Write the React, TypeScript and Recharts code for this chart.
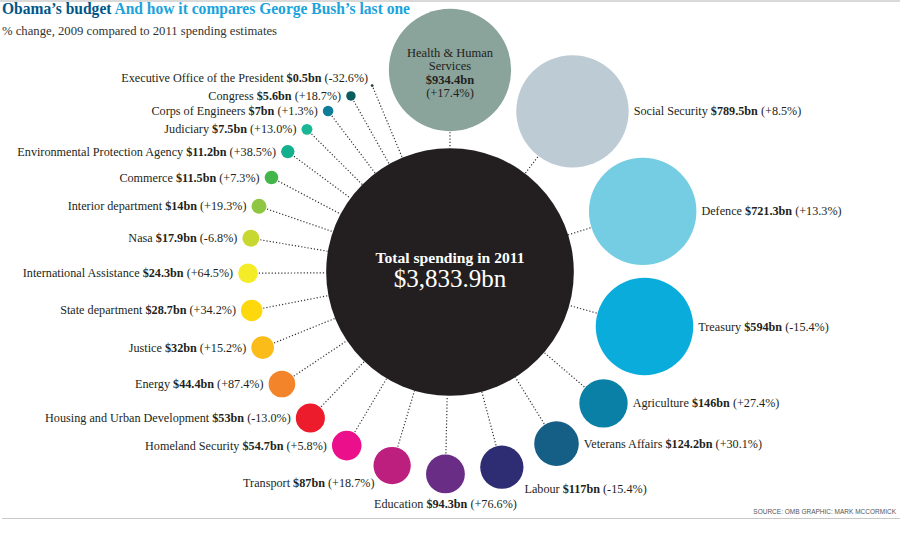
import React from "react";
import { Scatter, ScatterChart, XAxis, YAxis, ZAxis } from "recharts";

// departments in clockwise order, starting at the top
const departments = [
  "Health & Human Services",
  "Social Security",
  "Defence",
  "Treasury",
  "Agriculture",
  "Veterans Affairs",
  "Labour",
  "Education",
  "Transport",
  "Homeland Security",
  "Housing and Urban Development",
  "Energy",
  "Justice",
  "State department",
  "International Assistance",
  "Nasa",
  "Interior department",
  "Commerce",
  "Environmental Protection Agency",
  "Judiciary",
  "Corps of Engineers",
  "Congress",
  "Executive Office of the President",
];

// 2011 spending estimate, $bn
const spending2011 = [
  934.4, 789.5, 721.3, 594, 146, 124.2, 117, 94.3, 87, 54.7, 53, 44.4, 32, 28.7,
  24.3, 17.9, 14, 11.5, 11.2, 7.5, 7, 5.6, 0.5,
];

// % change 2009 -> 2011
const changeSince2009 = [
  17.4, 8.5, 13.3, -15.4, 27.4, 30.1, -15.4, 76.6, 18.7, 5.8, -13.0, 87.4, 15.2,
  34.2, 64.5, -6.8, 19.3, 7.3, 38.5, 13.0, 1.3, 18.7, -32.6,
];

const totalSpending = 3833.9;
const totalLabel = "$3,833.9bn";

const palette = [
  "#8aa39b", "#bdccd4", "#74cde2", "#0aacdc", "#0b80a6", "#155f86", "#2e2c73",
  "#692d86", "#bd1f7f", "#ec0f8c", "#ec1c2c", "#f4842a", "#fbbc1a", "#fdd80c",
  "#f5ec28", "#c9d830", "#8ec641", "#43b64a", "#12b08c", "#19b794", "#0e7e98",
  "#0b5c5e", "#1e3b3c",
];

const WIDTH = 900;
const HEIGHT = 540;
const CENTER = { x: 450, y: 272 };
const RING = 202;
const PX_PER_SQRT_BN = 2.0;
const FONT = '"Liberation Serif", "DejaVu Serif", serif';
const TEXT = "#231f20";

const rOf = (v: number) => PX_PER_SQRT_BN * Math.sqrt(v);
const bn = (v: number) => `$${v}bn`;
const pct = (c: number) => `(${c >= 0 ? "+" : "-"}${Math.abs(c).toFixed(1)}%)`;

// pack the bubbles round the ring, each one a roughly even gap from the last
const bubbles = (() => {
  let angle = -90;
  return departments.map((name, i) => {
    if (i > 0) {
      const s = rOf(spending2011[i - 1]) + rOf(spending2011[i]);
      const chord = s + 17.8 - 0.05 * s;
      angle += (2 * Math.asin(chord / (2 * RING)) * 180) / Math.PI;
    }
    const rad = (angle * Math.PI) / 180;
    return {
      name,
      value: spending2011[i],
      change: changeSince2009[i],
      color: palette[i],
      angle,
      x: CENTER.x + RING * Math.cos(rad),
      y: CENTER.y + RING * Math.sin(rad),
      z: spending2011[i],
    };
  });
})();

const centre = [{ x: CENTER.x, y: CENTER.y, z: totalSpending }];

const wrap = (s: string, max: number) => {
  const lines: string[] = [];
  let cur = "";
  s.split(" ").forEach((w) => {
    if (cur && (cur + " " + w).length > max) {
      lines.push(cur);
      cur = w;
    } else cur = cur ? cur + " " + w : w;
  });
  if (cur) lines.push(cur);
  return lines;
};

const radiusOf = (props: any) =>
  props.width ? props.width / 2 : Math.sqrt(Math.max(props.size ?? 0, 0) / Math.PI);

const labelPlace = (a: number, cx: number, cy: number, r: number) => {
  if (a > 244) return { x: cx - 4, y: cy - 8, anchor: "end" };
  if (a > 112) return { x: cx - r - 5, y: cy, anchor: "end" };
  if (a > 96) return { x: cx - r + 1, y: cy + r - 1, anchor: "end" };
  if (a > 84) return { x: cx, y: cy + r + 11, anchor: "middle" };
  if (a > 66) return { x: cx + r + 1, y: cy + r, anchor: "start" };
  return { x: cx + r + 5, y: cy, anchor: "start" };
};

const BubbleShape = (props: any) => {
  const { cx, cy, payload } = props;
  const r = radiusOf(props);
  const a = (payload.angle * Math.PI) / 180;
  const ux = Math.cos(a);
  const uy = Math.sin(a);
  const toEdge = RING - rOf(totalSpending);

  let label: React.ReactNode;
  if (payload.angle < -80) {
    const lines = wrap(payload.name, 14);
    const top = cy - 17;
    label = (
      <g fontFamily={FONT} fontSize={12.5} fill={TEXT} textAnchor="middle">
        {lines.map((l: string, i: number) => (
          <text key={i} x={cx} y={top + i * 13.3} dominantBaseline="central">
            {l}
          </text>
        ))}
        <text x={cx} y={top + lines.length * 13.3} fontWeight="bold" dominantBaseline="central">
          {bn(payload.value)}
        </text>
        <text x={cx} y={top + (lines.length + 1) * 13.3} dominantBaseline="central">
          {pct(payload.change)}
        </text>
      </g>
    );
  } else {
    const p = labelPlace(payload.angle, cx, cy, r);
    label = (
      <text
        x={p.x}
        y={p.y}
        textAnchor={p.anchor as any}
        dominantBaseline="central"
        fontFamily={FONT}
        fontSize={12.2}
        fill={TEXT}
      >
        {payload.name}{" "}
        <tspan fontWeight="bold">{bn(payload.value)}</tspan>{" "}
        {pct(payload.change)}
      </text>
    );
  }

  return (
    <g>
      <line
        x1={cx - (r + 1) * ux}
        y1={cy - (r + 1) * uy}
        x2={cx - toEdge * ux}
        y2={cy - toEdge * uy}
        stroke="#333"
        strokeWidth={1.2}
        strokeDasharray="1.2 2"
      />
      <circle cx={cx} cy={cy} r={r} fill={payload.color} />
      {label}
    </g>
  );
};

const CentreShape = (props: any) => {
  const { cx, cy } = props;
  const r = radiusOf(props);
  return (
    <g>
      <circle cx={cx} cy={cy} r={r} fill="#231f20" />
      <text
        x={cx}
        y={cy - 15}
        textAnchor="middle"
        dominantBaseline="central"
        fontFamily={FONT}
        fontWeight="bold"
        fontSize={15.6}
        fill="#fff"
      >
        Total spending in 2011
      </text>
      <text
        x={cx}
        y={cy + 6}
        textAnchor="middle"
        dominantBaseline="central"
        fontFamily={FONT}
        fontSize={25}
        fill="#fff"
      >
        {totalLabel}
      </text>
    </g>
  );
};

export default function App() {
  return (
    <div style={{ position: "relative", width: WIDTH, height: HEIGHT, background: "#fff" }}>
      <style>{"body{margin:0}"}</style>
      <ScatterChart
        width={WIDTH}
        height={HEIGHT}
        margin={{ top: 0, right: 0, bottom: 0, left: 0 }}
      >
        <XAxis type="number" dataKey="x" domain={[0, WIDTH]} hide />
        <YAxis type="number" dataKey="y" domain={[0, HEIGHT]} reversed hide />
        <ZAxis
          type="number"
          dataKey="z"
          domain={[0, totalSpending]}
          range={[0, Math.PI * PX_PER_SQRT_BN * PX_PER_SQRT_BN * totalSpending]}
        />
        <Scatter data={centre} shape={<CentreShape />} isAnimationActive={false} />
        <Scatter data={bubbles} shape={<BubbleShape />} isAnimationActive={false} />
      </ScatterChart>
      <svg
        width={WIDTH}
        height={HEIGHT}
        style={{ position: "absolute", left: 0, top: 0, pointerEvents: "none" }}
      >
        <line x1={0} y1={1} x2={WIDTH} y2={1} stroke="#cccccc" strokeWidth={1.5} />
        <text x={2} y={14} fontFamily={FONT} fontWeight="bold" fontSize={16} textLength={408} lengthAdjust="spacingAndGlyphs">
          <tspan fill="#005689">Obama’s budget</tspan>
          <tspan fill="#1aa3dd"> And how it compares George Bush’s last one</tspan>
        </text>
        <text x={2} y={35} fontFamily={FONT} fontSize={12} fill="#333" textLength={275} lengthAdjust="spacingAndGlyphs">
          % change, 2009 compared to 2011 spending estimates
        </text>
        <line x1={2} y1={518.5} x2={WIDTH} y2={518.5} stroke="#c8c8c8" strokeWidth={1} />
        <text
          x={896}
          y={514}
          textAnchor="end"
          fontFamily='"Liberation Sans Narrow", "Liberation Sans", sans-serif'
          fontSize={6.5}
          fill="#555"
        >
          SOURCE: OMB GRAPHIC: MARK MCCORMICK
        </text>
      </svg>
    </div>
  );
}
